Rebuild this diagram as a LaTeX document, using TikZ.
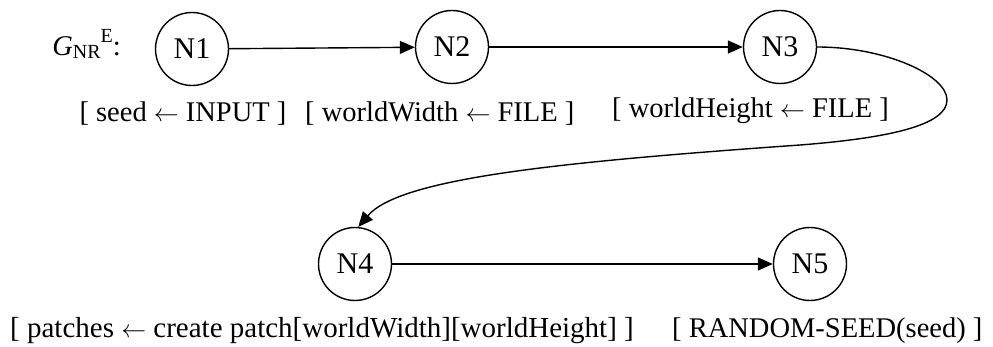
\documentclass[tikz,border=0pt]{standalone}
\usepackage{fontspec}
\setmainfont{Liberation Serif}
\usetikzlibrary{arrows.meta}
\newcommand{\lar}{\ensuremath{\leftarrow}}
\begin{document}
\begin{tikzpicture}[x=1pt,y=-1pt,
  state/.style={circle,draw,line width=1.4pt,minimum size=73pt,inner sep=0pt,font=\fontsize{30}{36}\selectfont},
  lbl/.style={inner sep=0pt,font=\fontsize{28.5}{34}\selectfont},
  edge/.style={line width=1.4pt,-{Triangle[length=15pt,width=13pt]}}]
\useasboundingbox (0,0) rectangle (993,347);
\node[state] (N1) at (192,49) {N1};
\node[state] (N2) at (452,47) {N2};
\node[state] (N3) at (780,47) {N3};
\node[state] (N4) at (355,264) {N4};
\node[state] (N5) at (810,264) {N5};
\node[lbl,anchor=base east] (G) at (121,56) {{\itshape G}\raisebox{-3pt}{\fontsize{20}{24}\selectfont NR}\raisebox{13pt}{\fontsize{20}{24}\selectfont E}:};
\node[lbl,anchor=base] (L1) at (183,122) {[ seed \lar{} INPUT ]};
\node[lbl,anchor=base west] (L2) at (305,122) {[ worldWidth \lar{} FILE ]};
\node[lbl,anchor=base west] (L3) at (612,118) {[ worldHeight \lar{} FILE ]};
\node[lbl,anchor=base west,font=\fontsize{29}{34}\selectfont] (L4) at (10,337) {[ patches \lar{} create patch[worldWidth][worldHeight] ]};
\node[lbl,anchor=base west] (L5) at (672,337) {[ RANDOM-SEED(seed) ]};
\draw[edge] (N1) -- (N2);
\draw[edge] (N2) -- (N3);
\draw[edge] (N4) -- (N5);
\draw[edge] (N3.east) .. controls (885,47) and (947,75) .. (947,100)
  .. controls (947,125) and (890,138) .. (800,145)
  .. controls (560,162) and (400,178) .. (N4.85);
\end{tikzpicture}
\end{document}
